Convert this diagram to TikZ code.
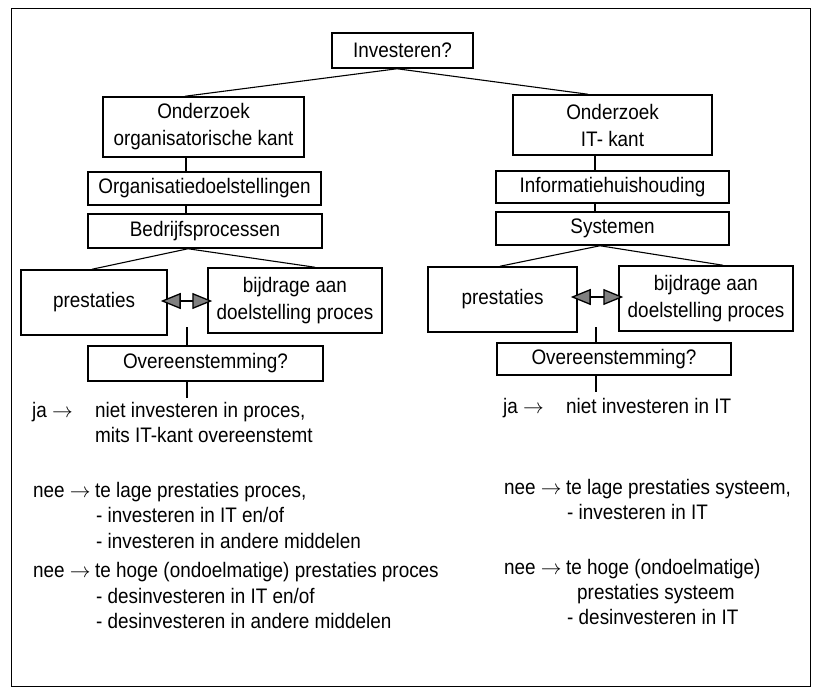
\documentclass[tikz,border=0pt]{standalone}
\usepackage{fontspec}
\setmainfont{Liberation Sans}[FakeStretch=0.9]
\usetikzlibrary{arrows.meta,calc}
\begin{document}
\begin{tikzpicture}[x=1pt,y=-1pt,
  box/.style={draw,line width=1.5pt,inner sep=0pt,align=center,font=\fontsize{21}{27}\selectfont},
  conn/.style={line width=1.1pt},
  txt/.style={anchor=base west,inner sep=0pt,font=\fontsize{21}{26}\selectfont},
  dbl/.style={line width=1.3pt,{Triangle[length=20pt,width=16pt,fill=gray]}-{Triangle[length=20pt,width=16pt,fill=gray]},shorten <=-7pt,shorten >=-5pt}]
\useasboundingbox (0,0) rectangle (817,688);
\draw[line width=1pt] (11,8) rectangle (810,686);

% top
\node[box,minimum width=141pt,minimum height=35pt] (inv) at (402.5,50.5) {Investeren?};
\node[box,minimum width=201pt,minimum height=60pt] (ol) at (203.5,127) {Onderzoek\\organisatorische kant};
\node[box,minimum width=199pt,minimum height=60pt] (or) at (612.5,125) {Onderzoek\\IT- kant};
\draw[conn] ([xshift=-5.5pt]inv.south) -- ([xshift=-18.5pt]ol.north);
\draw[conn] ([xshift=-5.5pt]inv.south) -- ([xshift=-24.5pt]or.north);

% left column
\node[box,minimum width=233pt,minimum height=33pt] (od) at (204.5,188.5) {Organisatiedoelstellingen};
\node[box,minimum width=234pt,minimum height=34pt] (bp) at (205,231) {Bedrijfsprocessen};
\draw[conn] ([xshift=-17.5pt]ol.south) -- ([xshift=-17.5pt]ol.south |- od.north);
\draw[conn] ([xshift=-18.5pt]od.south) -- ([xshift=-18.5pt]od.south |- bp.north);
\node[box,minimum width=146pt,minimum height=65pt] (pl) at (94,302.5) {prestaties};
\node[box,minimum width=174pt,minimum height=65pt] (bl) at (295,300.5) {bijdrage aan\\doelstelling proces};
\draw[conn] ([xshift=-17pt]bp.south) -- ([xshift=-2pt]pl.north);
\draw[conn] ([xshift=-17pt]bp.south) -- ([xshift=20pt]bl.north);
\draw[dbl] (pl.east |- 0,301) -- (bl.west |- 0,301);
\node[box,minimum width=235pt,minimum height=35pt] (ovl) at (205.5,363.5) {Overeenstemming?};
\coordinate (vl) at (187,327);
\coordinate (el) at (187,398);
\draw[conn] (vl) -- (vl |- ovl.north);
\draw[conn] (ovl.south -| el) -- (el);

% right column
\node[box,minimum width=233pt,minimum height=32pt] (ih) at (612.5,187) {Informatiehuishouding};
\node[box,minimum width=233pt,minimum height=33pt] (sy) at (612.5,228.5) {Systemen};
\draw[conn] ([xshift=-17.5pt]or.south) -- ([xshift=-17.5pt]or.south |- ih.north);
\draw[conn] ([xshift=-17.5pt]ih.south) -- ([xshift=-17.5pt]ih.south |- sy.north);
\node[box,minimum width=149pt,minimum height=65pt] (pr) at (502.5,299.5) {prestaties};
\node[box,minimum width=174pt,minimum height=65pt] (br) at (706,298.5) {bijdrage aan\\doelstelling proces};
\draw[conn] ([xshift=-12.5pt]sy.south) -- ([xshift=-2.5pt]pr.north);
\draw[conn] ([xshift=-12.5pt]sy.south) -- ([xshift=17pt]br.north);
\draw[dbl] (pr.east |- 0,297) -- (br.west |- 0,297);
\node[box,minimum width=234pt,minimum height=32pt] (ovr) at (614,359) {Overeenstemming?};
\coordinate (vr) at (596,327);
\coordinate (er) at (596,392);
\draw[conn] (vr) -- (vr |- ovr.north);
\draw[conn] (ovr.south -| er) -- (er);

% left texts
\node[txt] (l1a) at (32,417) {ja $\rightarrow$};
\node[txt] (l1b) at (95,417) {niet investeren in proces,};
\node[txt] (l1c) at (95,442) {mits IT-kant overeenstemt};
\node[txt] (l2a) at (33,497) {nee $\rightarrow$};
\node[txt] (l2b) at (95,497) {te lage prestaties proces,};
\node[txt] (l2c) at (96,522) {- investeren in IT en/of};
\node[txt] (l2d) at (96,548) {- investeren in andere middelen};
\node[txt] (l3a) at (33,577) {nee $\rightarrow$};
\node[txt] (l3b) at (95,577) {te hoge (ondoelmatige) prestaties proces};
\node[txt] (l3c) at (96,603) {- desinvesteren in IT en/of};
\node[txt] (l3d) at (96,628) {- desinvesteren in andere middelen};

% right texts
\node[txt] (r1a) at (503,413) {ja $\rightarrow$};
\node[txt] (r1b) at (566,413) {niet investeren in IT};
\node[txt] (r2a) at (504,494) {nee $\rightarrow$};
\node[txt] (r2b) at (566,494) {te lage prestaties systeem,};
\node[txt] (r2c) at (567,519) {- investeren in IT};
\node[txt] (r3a) at (504,574) {nee $\rightarrow$};
\node[txt] (r3b) at (566,574) {te hoge (ondoelmatige)};
\node[txt] (r3c) at (577,599) {prestaties systeem};
\node[txt] (r3d) at (567,624) {- desinvesteren in IT};
\end{tikzpicture}
\end{document}
